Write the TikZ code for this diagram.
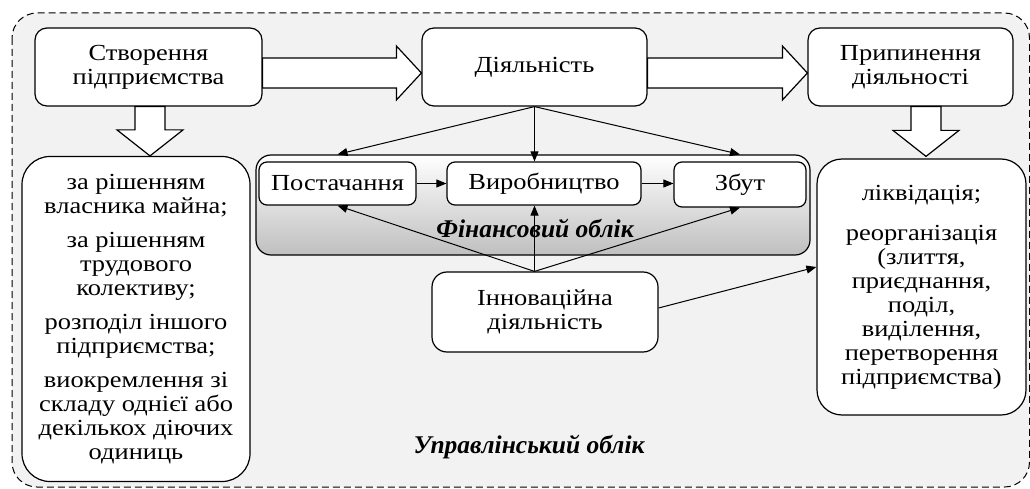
\documentclass[tikz,border=0pt]{standalone}
\usepackage{fontspec}
\setmainfont{Liberation Serif}[FakeStretch=1.15]
\newfontfamily\headfont{Liberation Serif}
\usetikzlibrary{arrows.meta,calc}
\tikzset{
  box/.style={draw, line width=1.2pt, fill=white, rounded corners=12pt, align=center,
    inner sep=0pt, font=\fontsize{23}{24}\selectfont},
  smallbox/.style={box, rounded corners=8pt},
  bigbox/.style={box, rounded corners=28pt},
  link/.style={line width=1pt, -{Triangle[length=10pt,width=8pt]}},
  blockarr/.style={draw, line width=1.2pt, fill=white},
  heading/.style={font=\headfont\fontsize{25.5}{26}\selectfont\bfseries\itshape}
}
% hollow block arrows
\newcommand{\harrow}[2]{%
  \draw[blockarr] let \p1=(#1), \p2=(#2) in
    (\x1,\y1+15pt) -- (\x2-25pt,\y1+15pt) -- (\x2-25pt,\y1+27pt) -- (\x2,\y1)
    -- (\x2-25pt,\y1-27pt) -- (\x2-25pt,\y1-15pt) -- (\x1,\y1-15pt) -- cycle;}
\newcommand{\varrow}[2]{%
  \draw[blockarr] let \p1=(#1), \p2=(#2) in
    (\x1-15pt,\y1) -- (\x1-15pt,\y2+26pt) -- (\x1-33pt,\y2+26pt) -- (\x1,\y2)
    -- (\x1+33pt,\y2+26pt) -- (\x1+15pt,\y2+26pt) -- (\x1+15pt,\y1) -- cycle;}
\begin{document}
\begin{tikzpicture}[x=1pt,y=-1pt]
  \useasboundingbox (0,0) rectangle (1030,489);
  \draw[fill=gray!10, line width=1pt, dash pattern=on 7pt off 4pt, rounded corners=25pt]
    (12,13) rectangle (1029.5,487);

  \node[box, minimum width=227, minimum height=78] (create) at (148.5,67) {Створення\\ підприємства};
  \node[box, minimum width=225, minimum height=78] (act) at (534.5,67) {Діяльність};
  \node[box, minimum width=205, minimum height=78] (stop) at (910.5,67) {Припинення\\ діяльності};

  \node[bigbox, minimum width=228, minimum height=325] (ways) at (136,319)
    {за рішенням\\ власника майна;\\[10pt] за рішенням\\ трудового\\ колективу;\\[10pt]
     розподіл іншого\\ підприємства;\\[10pt] виокремлення зі\\ складу однієї або\\
     декількох діючих\\ одиниць};
  \node[bigbox, rounded corners=25pt, minimum width=209, minimum height=256] (forms) at (921.5,287)
    {ліквідація;\\[16pt] реорганізація\\ (злиття,\\ приєднання,\\ поділ,\\ виділення,\\
     перетворення\\ підприємства)};

  \node[draw, line width=1.2pt, rounded corners=15pt, top color=white, middle color=white,
    bottom color=gray!50, minimum width=554, minimum height=100] (fin) at (533,205) {};
  \node[heading] (finlabel) at (535,228) {Фінансовий облік};
  \node[smallbox, minimum width=157, minimum height=43] (supply) at (337.5,183.5) {Постачання};
  \node[smallbox, minimum width=194, minimum height=43] (prod) at (544,183.5) {Виробництво};
  \node[smallbox, minimum width=132, minimum height=45] (sales) at (740,184.5) {Збут};

  \node[box, rounded corners=15pt, minimum width=226, minimum height=80] (innov) at (545,312)
    {Інноваційна\\ діяльність};
  \node[heading] (mgmtlabel) at (529,447) {Управлінський облік};

  \harrow{$(create.east)+(0,6)$}{$(act.west)+(0,6)$}
  \harrow{$(act.east)+(0,6)$}{$(stop.west)+(0,6)$}
  \varrow{$(create.south)+(1.5,0)$}{$(create.south |- ways.north)+(1.5,0)$}
  \varrow{$(stop.south)+(15.5,0)$}{$(stop.south |- forms.north)+(15.5,-2)$}

  \draw[link] (act.south) -- (supply.north |- fin.north);
  \draw[link] (act.south) -- (act.south |- prod.north);
  \draw[link] (act.south) -- (sales.north |- fin.north);
  \draw[link] (supply.east) -- (prod.west);
  \draw[link] (prod.east) -- (prod.east -| sales.west);

  \coordinate (innovtop) at (act.south |- innov.north);
  \coordinate (formsin) at ($(forms.west)+(0,-20)$);
  \draw[link] (innovtop) -- (supply.south);
  \draw[link] (innovtop) -- (innovtop |- prod.south);
  \draw[link] (innovtop) -- (sales.south);
  \draw[link] ($(innov.east)+(0,-4)$) -- (formsin);
\end{tikzpicture}
\end{document}
